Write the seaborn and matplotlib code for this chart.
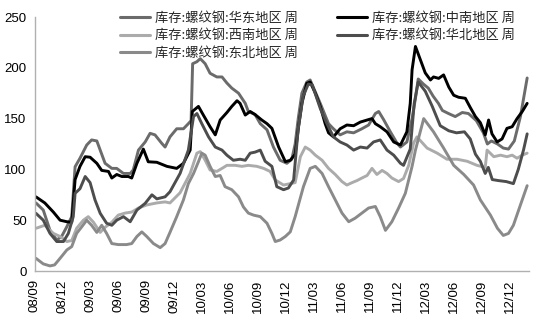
import matplotlib
matplotlib.use('Agg')
import matplotlib.pyplot as plt
import matplotlib.dates as mdates
from matplotlib.lines import Line2D
import seaborn as sns
import pandas as pd

regions = ['库存:螺纹钢:华东地区 周', '库存:螺纹钢:中南地区 周', '库存:螺纹钢:西南地区 周',
           '库存:螺纹钢:华北地区 周', '库存:螺纹钢:东北地区 周']
colors = ['#6b6b6b', '#000000', '#ababab', '#4d4d4d', '#8a8a8a']

east_dates = ['2008-09-04', '2008-09-28', '2008-10-20', '2008-11-11', '2008-11-27', '2008-12-14', '2008-12-30',
              '2009-01-10', '2009-01-26', '2009-02-17', '2009-03-05', '2009-03-22', '2009-04-02', '2009-04-18',
              '2009-05-10', '2009-05-26', '2009-06-17', '2009-07-09', '2009-07-19', '2009-08-05', '2009-08-27',
              '2009-09-12', '2009-09-28', '2009-10-20', '2009-10-31', '2009-11-16', '2009-12-08', '2009-12-30',
              '2010-01-15', '2010-01-24', '2010-01-29', '2010-02-12', '2010-02-23', '2010-03-11', '2010-03-27',
              '2010-04-18', '2010-05-05', '2010-05-21', '2010-06-06', '2010-06-28', '2010-07-20', '2010-07-30',
              '2010-08-21', '2010-09-07', '2010-09-29', '2010-10-20', '2010-11-11', '2010-12-03', '2010-12-19',
              '2010-12-30', '2011-01-09', '2011-01-21', '2011-02-06', '2011-02-17', '2011-03-22', '2011-04-18',
              '2011-05-04', '2011-05-26', '2011-06-17', '2011-07-09', '2011-08-05', '2011-08-27', '2011-09-18',
              '2011-09-29', '2011-10-15', '2011-11-06', '2011-11-28', '2011-12-09', '2011-12-30', '2012-01-16',
              '2012-01-27', '2012-02-05', '2012-02-22', '2012-03-09', '2012-03-25', '2012-04-11', '2012-04-24',
              '2012-05-14', '2012-06-05', '2012-06-28', '2012-07-18', '2012-08-13', '2012-09-05', '2012-09-18',
              '2012-10-01', '2012-10-21', '2012-11-09', '2012-11-26', '2012-12-15', '2013-01-04', '2013-01-26']
east_vals = [67, 60, 40, 30.5, 34, 43.6, 53.5,
             102.6, 111, 124, 129, 128, 119, 106,
             101, 101, 96, 96, 99.5, 119, 127,
             135.5, 134, 125.7, 122, 132, 140, 140,
             145, 148, 204, 206, 209, 204, 194.6,
             191, 191, 185, 180, 175, 165, 157,
             154, 145, 139, 122, 109, 106, 110,
             125, 150, 175, 186, 188, 165, 145,
             140, 134, 137, 136, 140, 143.7, 155,
             157, 149, 137, 125.7, 122, 127, 150,
             170, 189, 184, 180, 172, 165, 158,
             155, 152, 156, 155, 148, 136, 125,
             128, 125, 121, 120, 128, 152, 190]

central_dates = ['2008-09-04', '2008-10-03', '2008-10-31', '2008-11-22', '2008-12-14', '2008-12-30', '2009-01-10',
                 '2009-01-26', '2009-02-12', '2009-02-28', '2009-03-22', '2009-04-07', '2009-04-29', '2009-05-10',
                 '2009-05-26', '2009-06-12', '2009-07-03', '2009-07-14', '2009-07-31', '2009-08-21', '2009-09-06',
                 '2009-10-04', '2009-11-06', '2009-12-08', '2009-12-30', '2010-01-21', '2010-01-28', '2010-02-17',
                 '2010-03-05', '2010-03-27', '2010-04-13', '2010-04-29', '2010-05-21', '2010-06-06', '2010-06-23',
                 '2010-07-03', '2010-07-20', '2010-08-05', '2010-08-21', '2010-09-12', '2010-09-29', '2010-10-15',
                 '2010-11-06', '2010-11-28', '2010-12-14', '2010-12-30', '2011-01-10', '2011-01-21', '2011-02-06',
                 '2011-02-17', '2011-03-06', '2011-03-22', '2011-04-07', '2011-04-18', '2011-05-04', '2011-05-26',
                 '2011-06-17', '2011-07-09', '2011-07-31', '2011-08-22', '2011-09-07', '2011-09-18', '2011-10-04',
                 '2011-10-26', '2011-11-17', '2011-12-09', '2011-12-30', '2012-01-10', '2012-01-16', '2012-01-27',
                 '2012-02-12', '2012-02-28', '2012-03-16', '2012-03-26', '2012-04-12', '2012-04-28', '2012-05-15',
                 '2012-05-31', '2012-06-16', '2012-07-08', '2012-07-24', '2012-08-10', '2012-08-26', '2012-09-11',
                 '2012-09-22', '2012-10-03', '2012-10-20', '2012-11-05', '2012-11-21', '2012-12-08', '2012-12-24',
                 '2013-01-10', '2013-01-26']
central_vals = [73, 67, 58, 50, 48.5, 48, 90,
                103, 112.5, 112, 106, 99, 98, 91.5,
                95, 93, 93, 91.5, 106, 120, 107.5,
                107, 103, 101, 106, 119, 157, 162,
                153.5, 142, 134, 148.6, 156, 162, 167.6,
                165, 153.5, 157, 154, 148.6, 145, 140.4,
                122, 107.6, 109, 115, 142, 165, 184.7,
                186, 175, 162, 145, 136, 132, 140,
                143.7, 143, 146.6, 148.6, 150, 145, 142,
                137, 127, 124, 137, 165, 198, 221,
                208, 195, 188, 191, 189.6, 193, 181,
                173, 171, 170, 161, 152, 146, 134,
                148.6, 135, 127, 130, 140.4, 142, 150,
                157, 165]

southwest_dates = ['2008-09-04', '2008-10-03', '2008-10-31', '2008-11-22', '2008-12-14', '2008-12-30', '2009-01-15',
                   '2009-02-06', '2009-02-22', '2009-03-11', '2009-04-02', '2009-04-18', '2009-05-10', '2009-05-31',
                   '2009-06-22', '2009-07-14', '2009-08-05', '2009-09-01', '2009-10-04', '2009-10-31', '2009-11-16',
                   '2009-12-19', '2010-01-21', '2010-02-12', '2010-02-23', '2010-03-11', '2010-03-27', '2010-04-18',
                   '2010-05-05', '2010-05-21', '2010-06-17', '2010-07-09', '2010-07-30', '2010-08-27', '2010-09-18',
                   '2010-10-09', '2010-10-26', '2010-11-22', '2010-12-14', '2010-12-30', '2011-01-16', '2011-02-01',
                   '2011-02-17', '2011-03-06', '2011-03-28', '2011-04-18', '2011-05-10', '2011-06-01', '2011-06-17',
                   '2011-07-04', '2011-07-20', '2011-08-05', '2011-08-22', '2011-09-07', '2011-09-23', '2011-10-10',
                   '2011-10-26', '2011-11-11', '2011-12-03', '2011-12-19', '2012-01-05', '2012-01-21', '2012-02-01',
                   '2012-03-05', '2012-04-07', '2012-05-09', '2012-06-11', '2012-07-14', '2012-08-15', '2012-09-11',
                   '2012-09-17', '2012-10-09', '2012-10-31', '2012-11-21', '2012-12-08', '2012-12-24', '2013-01-10',
                   '2013-01-26']
southwest_vals = [42, 45, 37, 34, 29, 30, 42,
                  50, 53.5, 48, 38, 43, 48, 55,
                  57, 58, 62, 65, 67, 68, 67,
                  77, 96, 116, 117.5, 109, 99.4, 98,
                  101, 104, 104, 103, 104, 103, 101,
                  98, 89.6, 84.6, 86, 87, 112.5, 122,
                  119, 114, 109, 101, 95, 88, 84.6,
                  87, 89, 91.5, 94, 101, 95, 99,
                  96, 91.5, 88, 91, 104, 126, 132,
                  121, 116, 110, 110, 108, 104, 102,
                  119, 112.5, 114, 112.5, 114, 111, 114,
                  116]

north_dates = ['2008-09-04', '2008-09-28', '2008-10-20', '2008-11-11', '2008-12-03', '2008-12-19', '2009-01-04',
               '2009-01-10', '2009-01-26', '2009-02-12', '2009-02-28', '2009-03-16', '2009-04-02', '2009-04-23',
               '2009-05-10', '2009-05-26', '2009-06-17', '2009-07-09', '2009-07-31', '2009-08-27', '2009-09-18',
               '2009-10-04', '2009-10-31', '2009-11-16', '2009-12-19', '2010-01-15', '2010-02-01', '2010-02-12',
               '2010-02-28', '2010-03-22', '2010-04-13', '2010-05-05', '2010-05-21', '2010-06-11', '2010-07-03',
               '2010-07-20', '2010-08-05', '2010-08-21', '2010-09-07', '2010-09-23', '2010-10-15', '2010-10-31',
               '2010-11-22', '2010-12-08', '2010-12-25', '2011-01-09', '2011-01-25', '2011-02-11', '2011-02-24',
               '2011-03-22', '2011-04-13', '2011-05-04', '2011-05-26', '2011-06-17', '2011-07-09', '2011-07-31',
               '2011-08-22', '2011-09-12', '2011-10-04', '2011-10-26', '2011-11-17', '2011-12-09', '2011-12-19',
               '2012-01-10', '2012-01-23', '2012-02-05', '2012-02-28', '2012-03-22', '2012-04-17', '2012-05-15',
               '2012-06-09', '2012-07-05', '2012-07-24', '2012-08-10', '2012-08-26', '2012-09-11', '2012-09-21',
               '2012-10-04', '2012-10-24', '2012-11-19', '2012-12-12', '2012-12-28', '2013-01-14', '2013-01-26']
north_vals = [56.8, 50, 37, 29, 29, 37, 53.5,
              76.5, 81, 93, 87, 70, 56.8, 47,
              45, 50, 53.5, 48.5, 60, 66.6, 75,
              71, 73, 78, 96, 119, 152, 155,
              145, 132, 122, 119, 114, 109, 110,
              109, 116, 117, 119, 108, 103, 83,
              80, 81.7, 89.6, 140, 172, 184, 183,
              160, 145, 132, 127, 124, 119, 122,
              121, 127, 129, 119, 114, 106, 104,
              120, 165, 186, 177, 162, 143, 138,
              136, 137, 130, 115, 108, 96, 102,
              90, 89, 88, 86, 100, 119, 135]

northeast_dates = ['2008-09-04', '2008-09-28', '2008-10-20', '2008-11-04', '2008-11-22', '2008-12-14', '2008-12-30',
                   '2009-01-15', '2009-02-01', '2009-02-17', '2009-03-05', '2009-03-22', '2009-04-07', '2009-04-23',
                   '2009-05-10', '2009-05-31', '2009-06-27', '2009-07-14', '2009-07-31', '2009-08-16', '2009-09-01',
                   '2009-09-23', '2009-10-15', '2009-10-31', '2009-11-16', '2009-12-08', '2009-12-30', '2010-01-15',
                   '2010-02-01', '2010-02-17', '2010-02-28', '2010-03-11', '2010-03-27', '2010-04-13', '2010-04-29',
                   '2010-05-15', '2010-06-06', '2010-06-28', '2010-07-14', '2010-07-30', '2010-08-16', '2010-09-07',
                   '2010-09-29', '2010-10-15', '2010-10-26', '2010-11-11', '2010-11-28', '2010-12-14', '2010-12-30',
                   '2011-01-26', '2011-02-17', '2011-03-06', '2011-03-28', '2011-04-18', '2011-05-10', '2011-06-01',
                   '2011-06-23', '2011-07-14', '2011-08-05', '2011-08-27', '2011-09-18', '2011-10-04', '2011-10-21',
                   '2011-11-11', '2011-12-03', '2011-12-25', '2012-01-16', '2012-01-27', '2012-02-23', '2012-03-26',
                   '2012-04-28', '2012-05-31', '2012-07-03', '2012-08-04', '2012-08-26', '2012-09-28', '2012-10-21',
                   '2012-11-09', '2012-11-26', '2012-12-12', '2013-01-04', '2013-01-26']
northeast_vals = [12.5, 7, 5, 6, 12.5, 20.7, 24,
                  37, 43.6, 50, 45, 38, 45, 37,
                  27, 26, 26, 27, 34, 38.5, 34,
                  27, 23, 27, 38, 53.5, 70, 86,
                  96, 107.6, 116, 114, 103, 93, 94,
                  83, 80, 73, 63, 57, 55, 53.5,
                  47, 37, 29, 30.5, 34, 38.5, 53.5,
                  83, 101, 103, 96, 83, 70, 57,
                  48.5, 52, 57, 62, 63.5, 53.5, 40,
                  48.5, 62, 76.5, 103, 119, 150, 137,
                  121, 104, 95, 84.6, 70, 55, 42,
                  35, 37, 45, 65, 84]

y_ticks = [0, 50, 100, 150, 200, 250]

frames = []
for name, d, v in [(regions[0], east_dates, east_vals), (regions[1], central_dates, central_vals),
                   (regions[2], southwest_dates, southwest_vals), (regions[3], north_dates, north_vals),
                   (regions[4], northeast_dates, northeast_vals)]:
    frames.append(pd.DataFrame({'date': pd.to_datetime(d), 'value': v, 'region': name}))
df = pd.concat(frames, ignore_index=True)

sns.set_style('white')
plt.rcParams['font.family'] = ['Liberation Sans', 'Noto Sans CJK SC', 'DejaVu Sans']

fig = plt.figure(figsize=(5.5, 3.29), dpi=100)
ax = fig.add_axes([35 / 550, (329 - 271) / 329, (529 - 35) / 550, (271 - 17) / 329])

palette = dict(zip(regions, colors))
sns.lineplot(data=df, x='date', y='value', hue='region', hue_order=regions, palette=palette,
             estimator=None, sort=True, linewidth=2.1, ax=ax, legend=False)

ax.set_xlim(pd.Timestamp('2008-09-01'), pd.Timestamp('2013-02-01'))
ax.set_ylim(0, 250)
ax.set_yticks(y_ticks)
ax.set_xticks(pd.date_range('2008-09-01', '2012-12-01', freq='3MS'))
ax.xaxis.set_major_formatter(mdates.DateFormatter('%y/%m'))
ax.set_xlabel('')
ax.set_ylabel('')
for lab in ax.get_xticklabels():
    lab.set_rotation(90)
ax.tick_params(axis='both', which='major', labelsize=9.5, length=3, width=0.8,
               color='#b0b0b0', labelcolor='#000000', direction='out')
ax.tick_params(axis='x', pad=3)
ax.tick_params(axis='y', pad=3)
for s in ['top', 'right']:
    ax.spines[s].set_visible(False)
for s in ['left', 'bottom']:
    ax.spines[s].set_color('#b0b0b0')
    ax.spines[s].set_linewidth(1.0)
ax.grid(False)

order = [0, 2, 4, 1, 3]
handles = [Line2D([0], [0], color=colors[i], lw=2.2) for i in order]
labels = [regions[i] for i in order]
fig.legend(handles, labels, loc='upper left', bbox_to_anchor=(113 / 550, 1 - 5 / 329), ncol=2,
           frameon=False, borderpad=0, handlelength=2.3, handletextpad=0.35, columnspacing=3.0,
           labelspacing=0.35, prop={'family': ['Noto Sans CJK SC', 'DejaVu Sans'], 'size': 9.5})

fig.savefig('out.png', dpi=100, facecolor='white')
